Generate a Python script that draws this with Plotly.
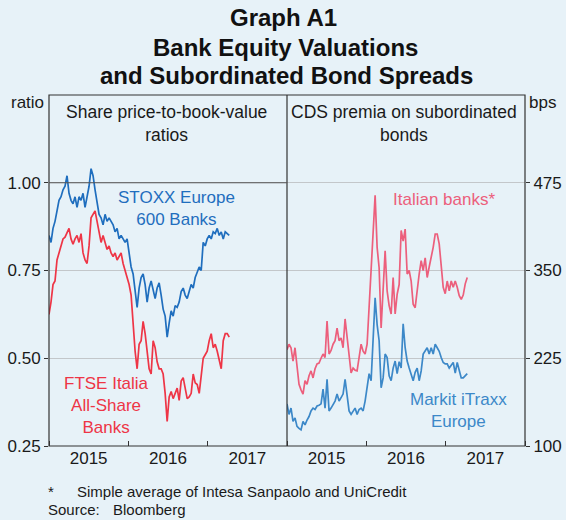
import pandas as pd
import plotly.graph_objects as go

# ---- data ----
dates = pd.date_range("2015-01-01", "2017-04-10", periods=91)

stoxx_pb = [0.85, 0.83, 0.87, 0.89, 0.92, 0.95, 0.96, 0.98, 0.99, 1.02,
            0.97, 0.95, 0.94, 0.96, 0.93, 0.96, 0.95, 0.97, 0.93, 0.96,
            0.99, 1.04, 1.02, 0.98, 0.95, 0.91, 0.90, 0.88, 0.91, 0.89,
            0.90, 0.89, 0.88, 0.86, 0.87, 0.84, 0.85, 0.84, 0.83, 0.84,
            0.80, 0.76, 0.74, 0.70, 0.645, 0.70, 0.73, 0.74, 0.71, 0.66,
            0.70, 0.72, 0.69, 0.67, 0.70, 0.715, 0.68, 0.64, 0.62, 0.56,
            0.60, 0.635, 0.62, 0.65, 0.645, 0.66, 0.69, 0.70, 0.68, 0.67,
            0.69, 0.71, 0.70, 0.73, 0.745, 0.76, 0.75, 0.83, 0.82, 0.84,
            0.85, 0.84, 0.86, 0.855, 0.87, 0.85, 0.86, 0.84, 0.86, 0.855,
            0.85]

ftse_pb = [0.625, 0.66, 0.71, 0.72, 0.78, 0.80, 0.82, 0.84, 0.845, 0.86,
           0.87, 0.84, 0.825, 0.84, 0.85, 0.83, 0.855, 0.80, 0.78, 0.77,
           0.82, 0.90, 0.91, 0.92, 0.89, 0.86, 0.83, 0.85, 0.83, 0.81,
           0.82, 0.80, 0.79, 0.80, 0.78, 0.79, 0.80, 0.77, 0.75, 0.735,
           0.71, 0.68, 0.60, 0.52, 0.47, 0.54, 0.55, 0.605, 0.57, 0.51,
           0.47, 0.455, 0.55, 0.53, 0.49, 0.47, 0.47, 0.455, 0.40, 0.32,
           0.39, 0.405, 0.385, 0.40, 0.415, 0.38, 0.435, 0.445, 0.41, 0.385,
           0.39, 0.40, 0.455, 0.43, 0.425, 0.40, 0.45, 0.50, 0.51, 0.52,
           0.55, 0.57, 0.53, 0.54, 0.52, 0.49, 0.47, 0.55, 0.57, 0.57,
           0.56]

italian_cds = [237, 245, 240, 221, 240, 211, 188, 180, 174, 193,
               188, 200, 207, 197, 210, 217, 218, 225, 231, 226,
               278, 231, 236, 245, 250, 268, 250, 254, 240, 281,
               254, 236, 204, 211, 208, 207, 225, 245, 235, 231,
               245, 297, 340, 407, 457, 383, 354, 268, 335, 378,
               321, 300, 288, 340, 288, 316, 330, 407, 392, 409,
               345, 350, 335, 302, 297, 326, 345, 364, 350, 368,
               340, 355, 368, 383, 402, 402, 388, 350, 326, 317,
               335, 321, 335, 326, 335, 326, 314, 309, 315, 331,
               340]

itraxx_cds = [160, 145, 154, 135, 140, 128, 125, 123, 135, 130,
              137, 142, 150, 154, 152, 157, 158, 160, 181, 154,
              195, 150, 154, 160, 164, 174, 164, 169, 174, 195,
              174, 150, 145, 150, 154, 145, 152, 154, 150, 164,
              185, 203, 193, 264, 311, 273, 250, 183, 197, 231,
              226, 200, 193, 211, 221, 203, 220, 211, 274, 240,
              221, 211, 203, 193, 205, 211, 193, 207, 231, 236,
              240, 231, 240, 231, 245, 240, 235, 226, 219, 217,
              217, 211, 215, 219, 204, 219, 208, 197, 197, 200,
              203]

left_ticks = [0.25, 0.50, 0.75, 1.00]
left_ticktext = ["0.25", "0.50", "0.75", "1.00"]
right_ticks = [100, 225, 350, 475]
right_ticktext = ["100", "225", "350", "475"]

# ---- styling ----
BG = "#E7F2F8"
FONT = "Liberation Sans, Arial, sans-serif"
C_STOXX = "#1F6EBE"
C_FTSE = "#EE3546"
C_ITAL = "#EC5F7C"
C_ITRAXX = "#3C88C8"
TXT = "#1a1a1a"

fig = go.Figure()
fig.add_trace(go.Scatter(x=dates, y=stoxx_pb, mode="lines",
                         line=dict(color=C_STOXX, width=1.7), xaxis="x", yaxis="y"))
fig.add_trace(go.Scatter(x=dates, y=ftse_pb, mode="lines",
                         line=dict(color=C_FTSE, width=1.7), xaxis="x", yaxis="y"))
fig.add_trace(go.Scatter(x=dates, y=italian_cds, mode="lines",
                         line=dict(color=C_ITAL, width=1.7), xaxis="x2", yaxis="y2"))
fig.add_trace(go.Scatter(x=dates, y=itraxx_cds, mode="lines",
                         line=dict(color=C_ITRAXX, width=1.7), xaxis="x2", yaxis="y2"))

xcommon = dict(type="date", range=["2015-01-01", "2018-01-01"], tick0="2015-01-01",
               dtick="M12", tickformat="%Y", ticklabelmode="period",
               ticks="inside", ticklen=5, tickcolor="#333", tickwidth=1,
               showgrid=False, showline=False, zeroline=False, automargin=False,
               tickfont=dict(family=FONT, size=17, color=TXT))

ycommon = dict(showgrid=True, gridcolor="#C3C7CA", gridwidth=1,
               ticks="outside", ticklen=4, tickcolor="#333", showline=False,
               zeroline=False, automargin=False,
               tickfont=dict(family=FONT, size=17, color=TXT))

fig.update_layout(
    width=566, height=520,
    paper_bgcolor=BG, plot_bgcolor=BG,
    margin=dict(l=49, r=41, t=95, b=74, autoexpand=False),
    showlegend=False,
    font=dict(family=FONT, color=TXT),
    xaxis=dict(domain=[0, 0.5], anchor="y", **xcommon),
    xaxis2=dict(domain=[0.5, 1], anchor="y2", **xcommon),
    yaxis=dict(range=[0.25, 1.25], tickvals=left_ticks, ticktext=left_ticktext,
               anchor="x", side="left", **ycommon),
    yaxis2=dict(range=[100, 600], tickvals=right_ticks, ticktext=right_ticktext,
                anchor="x2", side="right", **ycommon),
)

# frame, divider and the dark 1.00 line
fig.add_shape(type="rect", xref="paper", yref="paper", x0=0, x1=1, y0=0, y1=1,
              line=dict(color="#333", width=1.2))
fig.add_shape(type="line", xref="paper", yref="paper", x0=0.5, x1=0.5, y0=0, y1=1,
              line=dict(color="#333", width=1.2))
fig.add_shape(type="line", xref="x domain", yref="y", x0=0, x1=1, y0=1.0, y1=1.0,
              line=dict(color="#555", width=1.2))

# pixel -> plot-area paper coordinates
L, R, T, B = 49, 525, 95, 446
def pxa(xp):
    return (xp - L) / (R - L)
def pya(yp):
    return (B - yp) / (B - T)

def note(text, x, y, size=17, color=TXT, xanchor="center", bold=False):
    fig.add_annotation(text=("<b>%s</b>" % text) if bold else text, x=pxa(x), y=pya(y),
                       xref="paper", yref="paper",
                       showarrow=False, xanchor=xanchor, yanchor="middle", align="center",
                       font=dict(family=FONT, size=size, color=color))

note("Graph A1", 283, 18, size=24, color="#111", bold=True)
note("Bank Equity Valuations", 285, 47, size=24, color="#111", bold=True)
note("and Subordinated Bond Spreads", 286, 76, size=24, color="#111", bold=True)

note("ratio", 46, 102, xanchor="right")
note("bps", 527, 102, xanchor="left")
note("Share price-to-book-value<br>ratios", 166, 123, size=17.5)
note("CDS premia on subordinated<br>bonds", 404, 123, size=17.5)
note("STOXX Europe<br>600 Banks", 176, 208, color=C_STOXX)
note("FTSE Italia<br>All-Share<br>Banks", 106, 405, color=C_FTSE)
note("Italian banks*", 444, 199, color=C_ITAL)
note("Markit iTraxx<br>Europe", 458, 410, color=C_ITRAXX)
note("*", 46, 491, size=15, xanchor="left")
note("Simple average of Intesa Sanpaolo and UniCredit", 75, 491, size=15, xanchor="left")
note("Source:", 46, 509, size=15, xanchor="left")
note("Bloomberg", 111, 509, size=15, xanchor="left")

fig.write_html("out.html", config={"displayModeBar": False},
               post_script="document.body.style.margin='0';document.body.style.overflow='hidden';")
